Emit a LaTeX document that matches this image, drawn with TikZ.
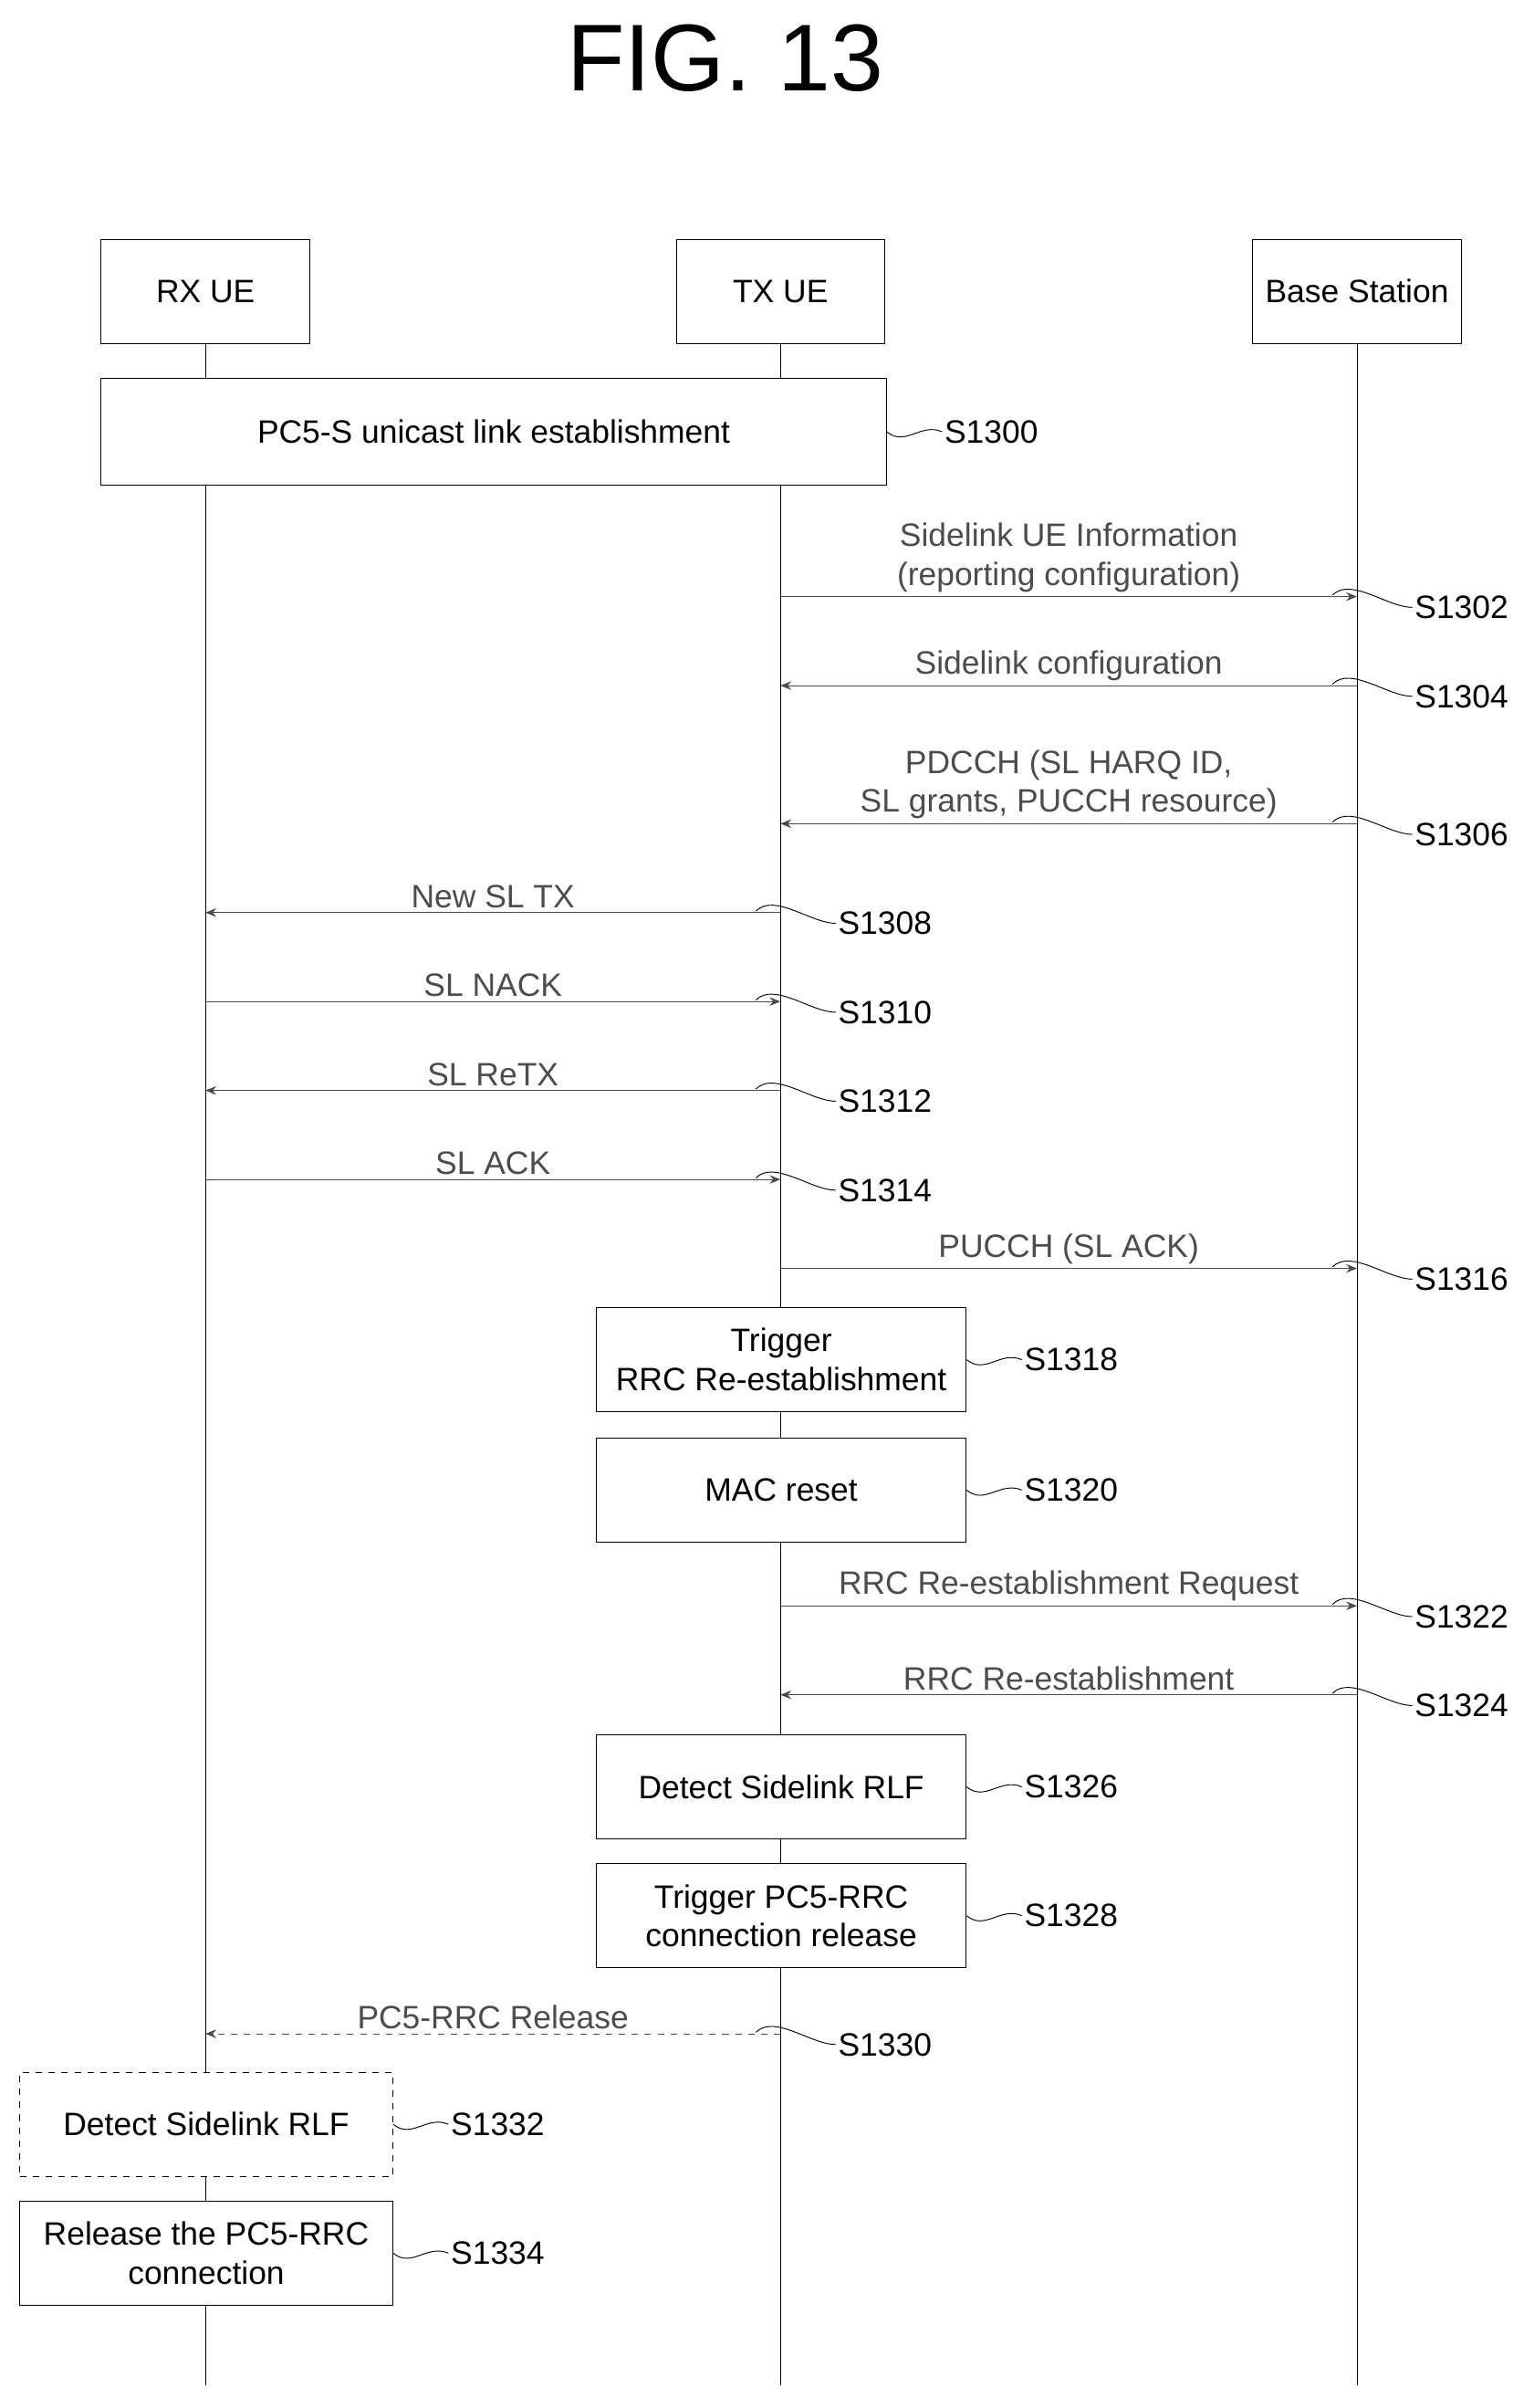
\documentclass[tikz,border=0pt]{standalone}
\usepackage{fontspec}
\setmainfont{Liberation Sans}
\usetikzlibrary{arrows.meta,positioning}
\tikzset{
  ent/.style={draw,fill=white,minimum width=3.4cm,minimum height=1.7cm,font=\fontsize{15}{18}\selectfont},
  act/.style={draw,fill=white,minimum width=6.03cm,minimum height=1.7cm,align=center,font=\fontsize{15}{18}\selectfont},
  msg/.style={-{Stealth[length=5pt,width=4pt]},gray!60!black,thin},
  lbl/.style={font=\fontsize{15}{18}\selectfont,align=center,above,inner sep=2pt},
  steptxt/.style={right,inner sep=1pt,font=\fontsize{15}{18}\selectfont},
  life/.style={thin}
}
% squiggle to a step label
\newcommand{\arrlabel}[2]{\draw[thin] (#1) ++(-16,-1) .. controls +(12,-12) and +(-16,0) .. ++(52,8) node[steptxt]{#2};}
\newcommand{\boxlabel}[2]{\draw[thin] (#1) .. controls +(12,10) and +(-14,-6) .. ++(36,0) node[steptxt]{#2};}
\begin{document}
\begin{tikzpicture}[x=0.025cm,y=-0.025cm]
\useasboundingbox (0,0) rectangle (1000,1570);
% title
  \node (title) at (473,38) {\fontsize{44}{50}\selectfont FIG. 13};
% entities
  \node[ent] (rx) at (134,190) {RX UE};
  \node[ent] (tx) at (509,190) {TX UE};
  \node[ent] (bs) at (885,190) {Base Station};
  \coordinate (rxend) at (134,1555);
  \coordinate (txend) at (509,1555);
  \coordinate (bsend) at (885,1555);
  \draw[life] (rx.south) -- (rxend);
  \draw[life] (tx.south) -- (txend);
  \draw[life] (bs.south) -- (bsend);
% message rows on the lifelines
  \foreach \n/\y in {1302/389,1304/447,1306/537,1308/595,1310/653,1312/711,1314/769,1316/827,1322/1047,1324/1105,1330/1326}{
    \coordinate (rx\n) at (134,\y);
    \coordinate (tx\n) at (509,\y);
    \coordinate (bs\n) at (885,\y);
  }
% link establishment
  \node[act,minimum width=12.8cm,minimum height=1.73cm] (s1300) at (322,281.5) {PC5-S unicast link establishment};
  \boxlabel{s1300.east}{S1300}
% configuration from base station
  \draw[msg] (tx1302) -- node[lbl]{Sidelink UE Information\\(reporting configuration)} (bs1302);
  \arrlabel{bs1302}{S1302}
  \draw[msg] (bs1304) -- node[lbl]{Sidelink configuration} (tx1304);
  \arrlabel{bs1304}{S1304}
  \draw[msg] (bs1306) -- node[lbl]{PDCCH (SL HARQ ID,\\SL grants, PUCCH resource)} (tx1306);
  \arrlabel{bs1306}{S1306}
% sidelink HARQ
  \draw[msg] (tx1308) -- node[lbl]{New SL TX} (rx1308);
  \arrlabel{tx1308}{S1308}
  \draw[msg] (rx1310) -- node[lbl]{SL NACK} (tx1310);
  \arrlabel{tx1310}{S1310}
  \draw[msg] (tx1312) -- node[lbl]{SL ReTX} (rx1312);
  \arrlabel{tx1312}{S1312}
  \draw[msg] (rx1314) -- node[lbl]{SL ACK} (tx1314);
  \arrlabel{tx1314}{S1314}
  \draw[msg] (tx1316) -- node[lbl]{PUCCH (SL ACK)} (bs1316);
  \arrlabel{bs1316}{S1316}
% re-establishment
  \node[act] (s1318) at (509.5,886.5) {Trigger\\RRC Re-establishment};
  \boxlabel{s1318.east}{S1318}
  \node[act] (s1320) at (509.5,971.5) {MAC reset};
  \boxlabel{s1320.east}{S1320}
  \draw[msg] (tx1322) -- node[lbl]{RRC Re-establishment Request} (bs1322);
  \arrlabel{bs1322}{S1322}
  \draw[msg] (bs1324) -- node[lbl]{RRC Re-establishment} (tx1324);
  \arrlabel{bs1324}{S1324}
% RLF handling
  \node[act] (s1326) at (509.5,1165) {Detect Sidelink RLF};
  \boxlabel{s1326.east}{S1326}
  \node[act] (s1328) at (509.5,1249) {Trigger PC5-RRC\\connection release};
  \boxlabel{s1328.east}{S1328}
  \draw[msg,dashed] (tx1330) -- node[lbl]{PC5-RRC Release} (rx1330);
  \arrlabel{tx1330}{S1330}
  \node[act,dashed,minimum width=6.08cm] (s1332) at (134.5,1385) {Detect Sidelink RLF};
  \boxlabel{s1332.east}{S1332}
  \node[act,minimum width=6.08cm] (s1334) at (134.5,1469) {Release the PC5-RRC\\connection};
  \boxlabel{s1334.east}{S1334}
\end{tikzpicture}
\end{document}
